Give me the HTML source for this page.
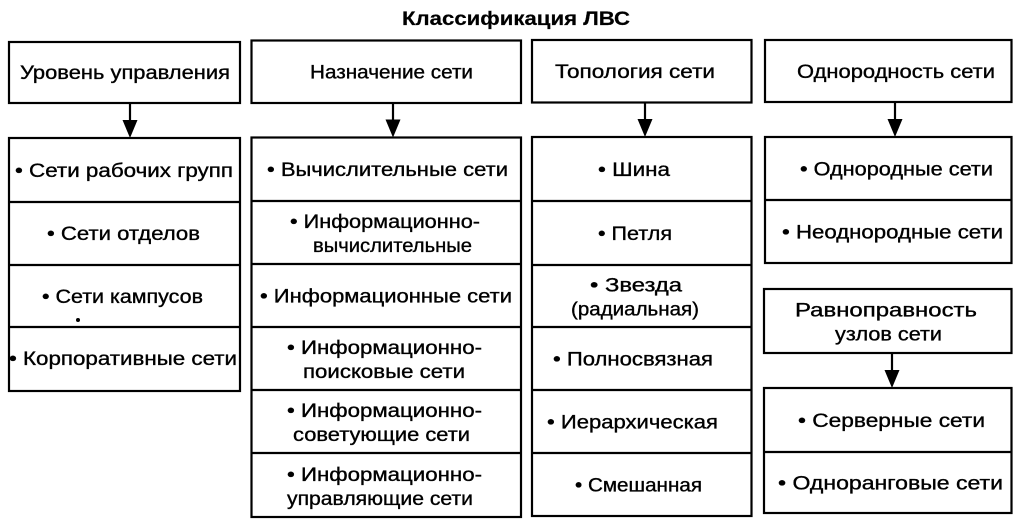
<!DOCTYPE html>
<html>
<head>
<meta charset="utf-8">
<style>
html,body{margin:0;padding:0;background:#fff;}
svg{display:block;}
text{font-family:"Liberation Sans","Noto Sans CJK SC",sans-serif;font-size:19px;fill:#000;stroke:#000;stroke-width:0.35;}
.t{font-weight:bold;stroke-width:0.2;}
</style>
</head>
<body>
<svg width="1025" height="529" viewBox="0 0 1025 529" xmlns="http://www.w3.org/2000/svg">
<rect x="0" y="0" width="1025" height="529" fill="#fff"/>
<g fill="none" stroke="#000" stroke-width="2.2">
  <!-- Column 1 -->
  <rect x="9" y="42" width="231" height="61"/>
  <rect x="9" y="138" width="231" height="253"/>
  <line x1="9" y1="202" x2="240" y2="202"/>
  <line x1="9" y1="265" x2="240" y2="265"/>
  <line x1="9" y1="327" x2="240" y2="327"/>
  <!-- Column 2 -->
  <rect x="251.5" y="40.5" width="269.5" height="62.5"/>
  <rect x="251.5" y="137.5" width="269.5" height="379.5"/>
  <line x1="251.5" y1="201" x2="521" y2="201"/>
  <line x1="251.5" y1="264" x2="521" y2="264"/>
  <line x1="251.5" y1="327" x2="521" y2="327"/>
  <line x1="251.5" y1="390" x2="521" y2="390"/>
  <line x1="251.5" y1="453" x2="521" y2="453"/>
  <!-- Column 3 -->
  <rect x="532" y="40" width="219.5" height="62.5"/>
  <rect x="532" y="137" width="219.5" height="379"/>
  <line x1="532" y1="201" x2="751.5" y2="201"/>
  <line x1="532" y1="265" x2="751.5" y2="265"/>
  <line x1="532" y1="327" x2="751.5" y2="327"/>
  <line x1="532" y1="390" x2="751.5" y2="390"/>
  <line x1="532" y1="453" x2="751.5" y2="453"/>
  <!-- Column 4 -->
  <rect x="765" y="40" width="246.5" height="62"/>
  <rect x="765" y="137" width="246.5" height="126"/>
  <line x1="765" y1="200" x2="1011.5" y2="200"/>
  <rect x="764" y="289" width="247.5" height="64"/>
  <rect x="764" y="388" width="247.5" height="125"/>
  <line x1="764" y1="452" x2="1011.5" y2="452"/>
  <!-- arrow shafts -->
  <line x1="130" y1="103" x2="130" y2="124"/>
  <line x1="393" y1="103" x2="393" y2="124"/>
  <line x1="645" y1="102.5" x2="645" y2="123"/>
  <line x1="895" y1="102" x2="895" y2="123"/>
  <line x1="892" y1="353" x2="892" y2="374"/>
</g>
<g fill="#000" stroke="none">
  <polygon points="122.5,120 137.5,120 130,138"/>
  <polygon points="385.5,119.5 400.5,119.5 393,137.5"/>
  <polygon points="637.5,119 652.5,119 645,137"/>
  <polygon points="887.5,119 902.5,119 895,137"/>
  <polygon points="884.5,370 899.5,370 892,388"/>
  <circle cx="78" cy="320" r="2"/>
</g>

<!-- Title -->
<text class="t" x="402" y="25" textLength="228" lengthAdjust="spacingAndGlyphs">Классификация ЛВС</text>

<!-- Column 1 -->
<text x="20" y="79" textLength="210" lengthAdjust="spacingAndGlyphs">Уровень управления</text>
<text x="15" y="177" textLength="218" lengthAdjust="spacingAndGlyphs">• Сети рабочих групп</text>
<text x="47" y="240" textLength="153" lengthAdjust="spacingAndGlyphs">• Сети отделов</text>
<text x="42" y="303" textLength="161" lengthAdjust="spacingAndGlyphs">• Сети кампусов</text>
<text x="9" y="365" textLength="228" lengthAdjust="spacingAndGlyphs">• Корпоративные сети</text>

<!-- Column 2 -->
<text x="310" y="78.5" textLength="163" lengthAdjust="spacingAndGlyphs">Назначение сети</text>
<text x="267" y="176" textLength="241" lengthAdjust="spacingAndGlyphs">• Вычислительные сети</text>
<text x="290" y="228" textLength="190" lengthAdjust="spacingAndGlyphs">• Информационно-</text>
<text x="313" y="252" textLength="159" lengthAdjust="spacingAndGlyphs">вычислительные</text>
<text x="260" y="302.5" textLength="252" lengthAdjust="spacingAndGlyphs">• Информационные сети</text>
<text x="287" y="354" textLength="195" lengthAdjust="spacingAndGlyphs">• Информационно-</text>
<text x="303" y="378" textLength="162" lengthAdjust="spacingAndGlyphs">поисковые сети</text>
<text x="287" y="417" textLength="195" lengthAdjust="spacingAndGlyphs">• Информационно-</text>
<text x="293" y="441" textLength="177" lengthAdjust="spacingAndGlyphs">советующие сети</text>
<text x="287" y="481" textLength="195" lengthAdjust="spacingAndGlyphs">• Информационно-</text>
<text x="287" y="505" textLength="186" lengthAdjust="spacingAndGlyphs">управляющие сети</text>

<!-- Column 3 -->
<text x="555" y="78" textLength="160" lengthAdjust="spacingAndGlyphs">Топология сети</text>
<text x="598" y="176" textLength="72" lengthAdjust="spacingAndGlyphs">• Шина</text>
<text x="598" y="240" textLength="74" lengthAdjust="spacingAndGlyphs">• Петля</text>
<text x="590" y="291.5" textLength="92" lengthAdjust="spacingAndGlyphs">• Звезда</text>
<text x="571" y="315.5" textLength="128" lengthAdjust="spacingAndGlyphs">(радиальная)</text>
<text x="553" y="365.5" textLength="160" lengthAdjust="spacingAndGlyphs">• Полносвязная</text>
<text x="547" y="428.5" textLength="171" lengthAdjust="spacingAndGlyphs">• Иерархическая</text>
<text x="575" y="491.5" textLength="127" lengthAdjust="spacingAndGlyphs">• Смешанная</text>

<!-- Column 4 -->
<text x="797" y="78" textLength="198" lengthAdjust="spacingAndGlyphs">Однородность сети</text>
<text x="800" y="175.5" textLength="193" lengthAdjust="spacingAndGlyphs">• Однородные сети</text>
<text x="782" y="238.5" textLength="221" lengthAdjust="spacingAndGlyphs">• Неоднородные сети</text>
<text x="795" y="316.5" textLength="182" lengthAdjust="spacingAndGlyphs">Равноправность</text>
<text x="835" y="340.5" textLength="107" lengthAdjust="spacingAndGlyphs">узлов сети</text>
<text x="798" y="427" textLength="187" lengthAdjust="spacingAndGlyphs">• Серверные сети</text>
<text x="778" y="489.5" textLength="225" lengthAdjust="spacingAndGlyphs">• Одноранговые сети</text>
</svg>
</body>
</html>
